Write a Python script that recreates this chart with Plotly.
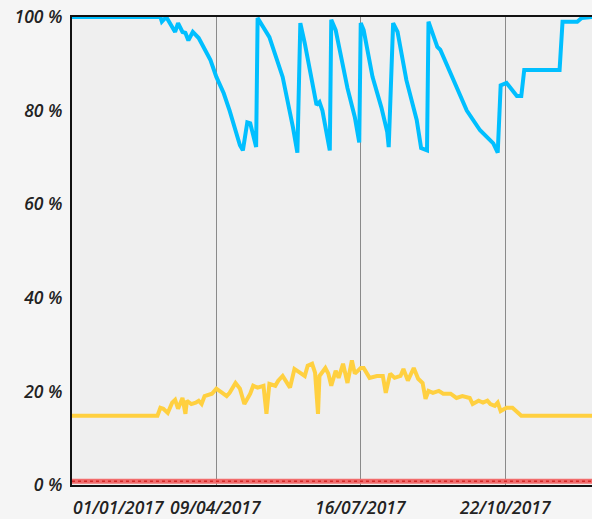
import pandas as pd
import plotly.graph_objects as go

START = pd.Timestamp("2017-01-01")

# days since 01/01/2017 and percentage values
blue_days = [0, 60, 61, 64, 70, 72, 75, 77, 79, 82, 86, 89, 94, 98, 103, 107, 111, 114,
             116, 119, 121, 125, 126, 130, 132, 134, 143, 148, 150, 153, 155, 158, 163,
             166, 168, 170, 175, 176, 179, 187, 192, 195, 196, 198, 204, 210, 214, 215,
             218, 221, 227, 234, 237, 241, 242, 248, 250, 259, 268, 277, 286, 289, 291,
             295, 302, 305, 307, 331, 333, 343, 346, 353]
blue_vals = [100, 100, 99, 100, 96.8, 98.7, 96.8, 96.6, 95, 96.8, 95.5, 93.6, 90.8, 87.2,
             83.7, 80, 75.8, 72.6, 71.5, 77.5, 77.3, 72.2, 99.8, 97.6, 96.8, 95.7, 87.2,
             80, 76.4, 71, 98.7, 94.4, 86.5, 81.2, 81.8, 80, 71.5, 99.4, 97.2, 84.8, 78.6,
             73.2, 98.7, 97.2, 87.2, 80.7, 75.4, 72.2, 98.7, 96.8, 86.5, 78, 72, 71.5, 99,
             93.6, 93, 86.5, 80, 75.8, 73, 71, 85.4, 85.9, 83.1, 83.1, 88.7, 88.7, 99, 99,
             99.8, 100]

yellow_days = [0, 58, 60, 62, 65, 68, 70, 72, 75, 77, 78, 81, 84, 86, 88, 90, 95, 98, 102,
               105, 107, 111, 114, 117, 121, 123, 126, 130, 132, 134, 138, 140, 143, 146,
               148, 151, 155, 158, 160, 163, 165, 167, 168, 172, 174, 176, 179, 181, 184,
               187, 190, 192, 196, 198, 202, 207, 211, 213, 216, 219, 223, 225, 228, 232,
               235, 238, 240, 242, 245, 249, 252, 257, 261, 265, 270, 272, 276, 279, 282,
               284, 287, 289, 291, 295, 299, 303, 305, 353]
yellow_vals = [14.8, 14.8, 16.5, 16.3, 15.4, 17.6, 18.2, 16.3, 18.6, 15.2, 18, 17.3, 17.6,
               18, 17.3, 19, 19.5, 20.6, 19.7, 19, 19.7, 21.8, 20.6, 17.3, 19.5, 21.2, 20.8,
               21.2, 15.2, 21.6, 21.2, 22.3, 23.3, 21.8, 20.8, 24.8, 23.8, 23.3, 25.5, 25.9,
               24, 15.2, 23.3, 25, 23.8, 21.2, 24.4, 22.9, 25.9, 21.8, 26.6, 23.8, 25, 25,
               22.9, 23.3, 23.3, 19.7, 23.8, 22.9, 23.3, 24.8, 22.3, 25, 22.7, 21.8, 18.4,
               20.1, 19.7, 20.1, 19.5, 19.5, 18.6, 19, 18.6, 17.3, 18, 17.6, 18, 17.3, 16.9,
               17.6, 15.8, 16.5, 16.5, 15.2, 14.8, 14.8]

red_days = [0, 353]
red_vals = [0.8, 0.8]

tick_dates = ["2017-01-01", "2017-04-09", "2017-07-16", "2017-10-22"]
tick_labels = ["01/01/2017", "09/04/2017", "16/07/2017", "22/10/2017"]
y_ticks = [0, 20, 40, 60, 80, 100]
y_labels = ["0 %", "20 %", "40 %", "60 %", "80 %", "100 %"]


def to_dates(days):
    return START + pd.to_timedelta(days, unit="D")


font = {"family": "Open Sans", "size": 17.5, "color": "#222222",
        "style": "italic", "weight": 600}

fig = go.Figure()
fig.add_trace(go.Scatter(x=to_dates(red_days), y=red_vals, mode="lines",
                         line={"color": "#f26b6b", "width": 5}, hoverinfo="skip"))
fig.add_trace(go.Scatter(x=to_dates(red_days), y=red_vals, mode="lines",
                         line={"color": "#d42a2a", "width": 1.5, "dash": "dot"},
                         hoverinfo="skip"))
fig.add_trace(go.Scatter(x=to_dates(yellow_days), y=yellow_vals, mode="lines",
                         line={"color": "#ffd040", "width": 4}))
fig.add_trace(go.Scatter(x=to_dates(blue_days), y=blue_vals, mode="lines",
                         line={"color": "#00bfff", "width": 4}))

fig.update_xaxes(
    range=[to_dates([0])[0], to_dates([353])[0]],
    tickvals=tick_dates[1:],
    showticklabels=False,
    showgrid=True, gridcolor="#8a8a8a", gridwidth=1,
    showline=True, linecolor="#111111", linewidth=2, mirror=True,
    zeroline=False,
)
fig.update_yaxes(
    range=[0, 100],
    tickvals=y_ticks,
    ticktext=y_labels,
    tickfont=font,
    showgrid=False,
    showline=True, linecolor="#111111", linewidth=2,
    zeroline=False,
    ticks="outside", ticklen=4, tickcolor="rgba(0,0,0,0)",
    automargin=False,
)

for i, (d, lab) in enumerate(zip(tick_dates, tick_labels)):
    fig.add_annotation(
        x=d, y=0, xref="x", yref="paper", text=lab, showarrow=False,
        xanchor="left" if i == 0 else "center", yanchor="top", yshift=-9,
        font=font, borderpad=0,
    )

fig.update_layout(
    width=592, height=519,
    margin={"l": 72, "r": 0, "t": 17, "b": 34},
    paper_bgcolor="#f5f5f5",
    plot_bgcolor="#efefef",
    showlegend=False,
)

fig.write_html(
    "out.html",
    config={"displayModeBar": False},
    post_script="document.body.style.margin='0';"
    "document.body.style.background='#f5f5f5';",
)
